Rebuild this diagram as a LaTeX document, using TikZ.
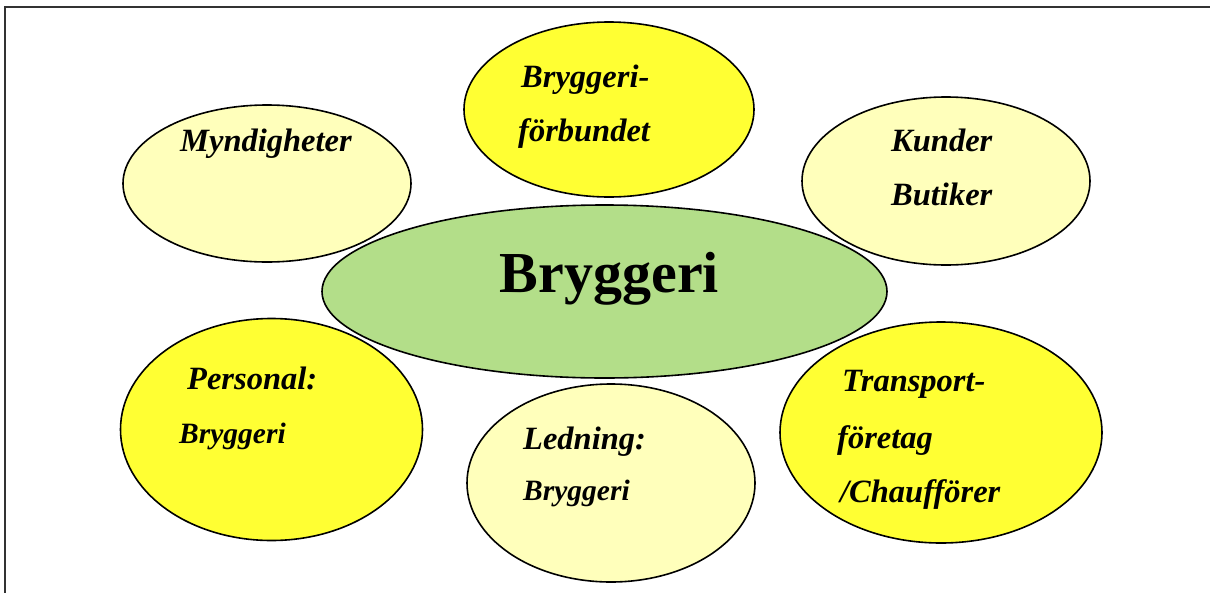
\documentclass[tikz,border=0pt]{standalone}
\usepackage{fontspec}
\setmainfont{Liberation Serif}
\usetikzlibrary{shapes.geometric}
\definecolor{paleyel}{RGB}{255,255,187}
\definecolor{brightyel}{RGB}{255,255,51}
\definecolor{centgreen}{RGB}{179,222,137}
\definecolor{framegray}{RGB}{50,50,50}
\tikzset{
  blob/.style={ellipse, draw=black, line width=1.6pt, inner sep=0pt},
  lbl/.style={anchor=base west, inner sep=0pt, font=\fontsize{32.5}{32.5}\selectfont\bfseries\itshape},
  sublbl/.style={anchor=base west, inner sep=0pt, font=\fontsize{29.5}{29.5}\selectfont\bfseries\itshape},
}
\begin{document}
\begin{tikzpicture}[x=1pt,y=-1pt]
\useasboundingbox (0,0) rectangle (1210,592);
% frame
\draw[framegray, line width=2.4pt] (5,600) -- (5,7) -- (1215,7);
% ellipses
\node[blob, fill=centgreen, minimum width=565pt, minimum height=173pt] (center) at (604.5,291.5) {};
\node[blob, fill=paleyel, minimum width=288pt, minimum height=157pt] (mynd) at (267,183.5) {};
\node[blob, fill=brightyel, minimum width=290pt, minimum height=175pt] (forb) at (609,109.5) {};
\node[blob, fill=paleyel, minimum width=288pt, minimum height=168pt] (kund) at (946,181) {};
\node[blob, fill=brightyel, minimum width=302pt, minimum height=222pt] (pers) at (271.5,429.5) {};
\node[blob, fill=paleyel, minimum width=288pt, minimum height=198pt] (led) at (611,483) {};
\node[blob, fill=brightyel, minimum width=322pt, minimum height=221pt] (trans) at (941,432.5) {};
% texts
\node[anchor=base, inner sep=0pt, font=\fontsize{58}{58}\selectfont\bfseries] (tc) at (609.5,292) {Bryggeri};
\node[lbl] (t1) at (180,151) {Myndigheter};
\node[lbl] (t2a) at (521,87) {Bryggeri-};
\node[lbl] (t2b) at (518,141) {förbundet};
\node[lbl] (t3a) at (891,151) {Kunder};
\node[lbl] (t3b) at (891,205) {Butiker};
\node[lbl] (t4a) at (187,389) {Personal:};
\node[sublbl] (t4b) at (179,443) {Bryggeri};
\node[lbl] (t5a) at (523,449) {Ledning:};
\node[sublbl] (t5b) at (523,500) {Bryggeri};
\node[lbl] (t6a) at (842,391) {Transport-};
\node[lbl] (t6b) at (837,448) {företag};
\node[lbl] (t6c) at (840,502) {/Chaufförer};
\end{tikzpicture}
\end{document}
